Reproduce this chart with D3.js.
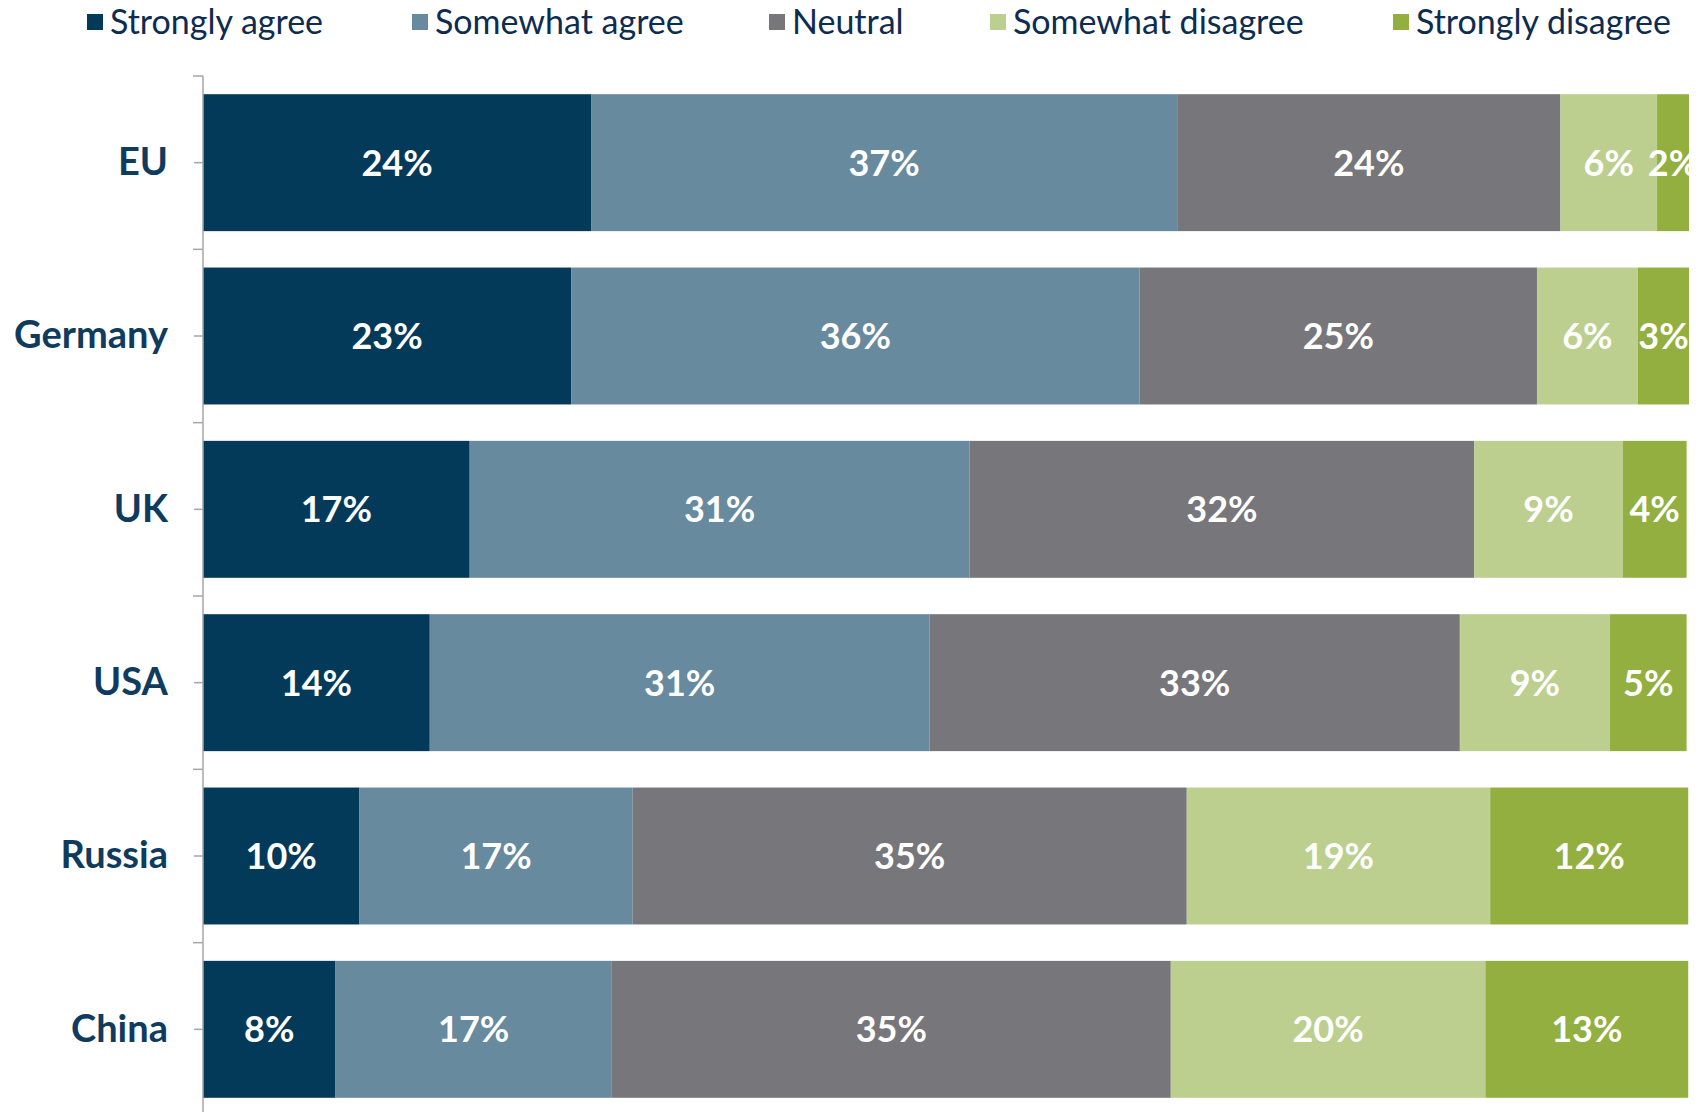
<!DOCTYPE html>
<html>
<head>
<meta charset="utf-8">
<script src="https://cdn.jsdelivr.net/npm/d3@7"></script>
<style>
  body { margin: 0; background: #fff; }
  #chart { width: 1702px; height: 1112px; }
  text { font-family: Lato, "Open Sans", sans-serif; }
</style>
</head>
<body>
<div id="chart"></div>
<script>

// data (share of answers, %)
var countries = ["EU", "Germany", "UK", "USA", "Russia", "China"];
var answers = ["Strongly agree", "Somewhat agree", "Neutral", "Somewhat disagree", "Strongly disagree"];
var stronglyAgree    = [24.3, 23.05, 16.7, 14.2,  9.8,  8.3];
var somewhatAgree    = [36.7, 35.6,  31.3, 31.3, 17.1, 17.3];
var neutral          = [24.0, 24.88, 31.6, 33.2, 34.7, 35.0];
var somewhatDisagree = [6.05, 6.32,  9.3,  9.4,  19.0, 19.7];
var stronglyDisagree = [2.0,  3.2,   4.0,  4.8,  12.4, 12.7];
var colors = ["#033a5a", "#678a9e", "#77777b", "#bccf8f", "#92af40"];

var series = [stronglyAgree, somewhatAgree, neutral, somewhatDisagree, stronglyDisagree];

var width = 1702, height = 1112;

var svg = d3.select("#chart")
    .append("svg")
    .attr("width", width)
    .attr("height", height);

var x = d3.scaleLinear()
    .domain([0, 100])
    .range([203, 203 + 1597]);

var y = d3.scaleBand()
    .domain(countries)
    .range([76, 1116])
    .paddingInner(0.21)
    .paddingOuter(0.105);

// build rows for the stack
var rows = countries.map(function(c, i) {
    var r = { country: c };
    answers.forEach(function(a, j) { r[a] = series[j][i]; });
    return r;
});

var stack = d3.stack().keys(answers);
var stacked = stack(rows);

var groups = svg.selectAll("g.layer")
    .data(stacked)
    .enter()
    .append("g")
    .attr("class", "layer")
    .attr("fill", function(d, i) { return colors[i]; });

groups.selectAll("rect")
    .data(function(d) { return d; })
    .enter()
    .append("rect")
    .attr("x", function(d) { return x(d[0]); })
    .attr("y", function(d) { return y(d.data.country); })
    .attr("width", function(d) { return x(d[1]) - x(d[0]); })
    .attr("height", y.bandwidth());

groups.selectAll("text")
    .data(function(d) { return d; })
    .enter()
    .append("text")
    .attr("x", function(d) { return (x(d[0]) + x(d[1])) / 2; })
    .attr("y", function(d) { return y(d.data.country) + y.bandwidth() / 2; })
    .attr("dy", "0.36em")
    .attr("text-anchor", "middle")
    .attr("fill", "white")
    .attr("font-size", "36px")
    .attr("font-weight", "bold")
    .text(function(d) { return Math.round(d[1] - d[0]) + "%"; });

// left axis
var yAxis = d3.axisLeft(y).tickSize(9).tickPadding(26);
var axisG = svg.append("g")
    .attr("transform", "translate(203,0)")
    .call(yAxis);
axisG.select(".domain").remove();
axisG.selectAll(".tick line").attr("stroke", "#a3a6aa").attr("stroke-width", 1.5);
axisG.selectAll(".tick text")
    .attr("font-size", "38px")
    .attr("font-weight", "bold")
    .attr("fill", "#0f3b5f");

svg.append("line")
    .attr("x1", 203).attr("x2", 203)
    .attr("y1", 76).attr("y2", height)
    .attr("stroke", "#a3a6aa")
    .attr("stroke-width", 1.5);

// boundary ticks between the categories
var bounds = countries.map(function(c) { return y(c) - y.step() * y.paddingInner() / 2; });
bounds.push(y.range()[1]);
svg.selectAll("line.bound")
    .data(bounds)
    .enter()
    .append("line")
    .attr("class", "bound")
    .attr("x1", 193).attr("x2", 203)
    .attr("y1", function(d) { return d; })
    .attr("y2", function(d) { return d; })
    .attr("stroke", "#a3a6aa")
    .attr("stroke-width", 1.5);

// legend
var legendX = [87, 412, 769, 990, 1393];
var legend = svg.selectAll("g.legend")
    .data(answers)
    .enter()
    .append("g")
    .attr("class", "legend")
    .attr("transform", function(d, i) { return "translate(" + legendX[i] + ",0)"; });

legend.append("rect")
    .attr("x", 0).attr("y", 14)
    .attr("width", 16).attr("height", 16)
    .attr("fill", function(d, i) { return colors[i]; });

legend.append("text")
    .attr("x", 23)
    .attr("y", 34)
    .attr("font-size", "34px")
    .attr("fill", "#0d2c4f")
    .text(function(d) { return d; });

</script>
</body>
</html>
